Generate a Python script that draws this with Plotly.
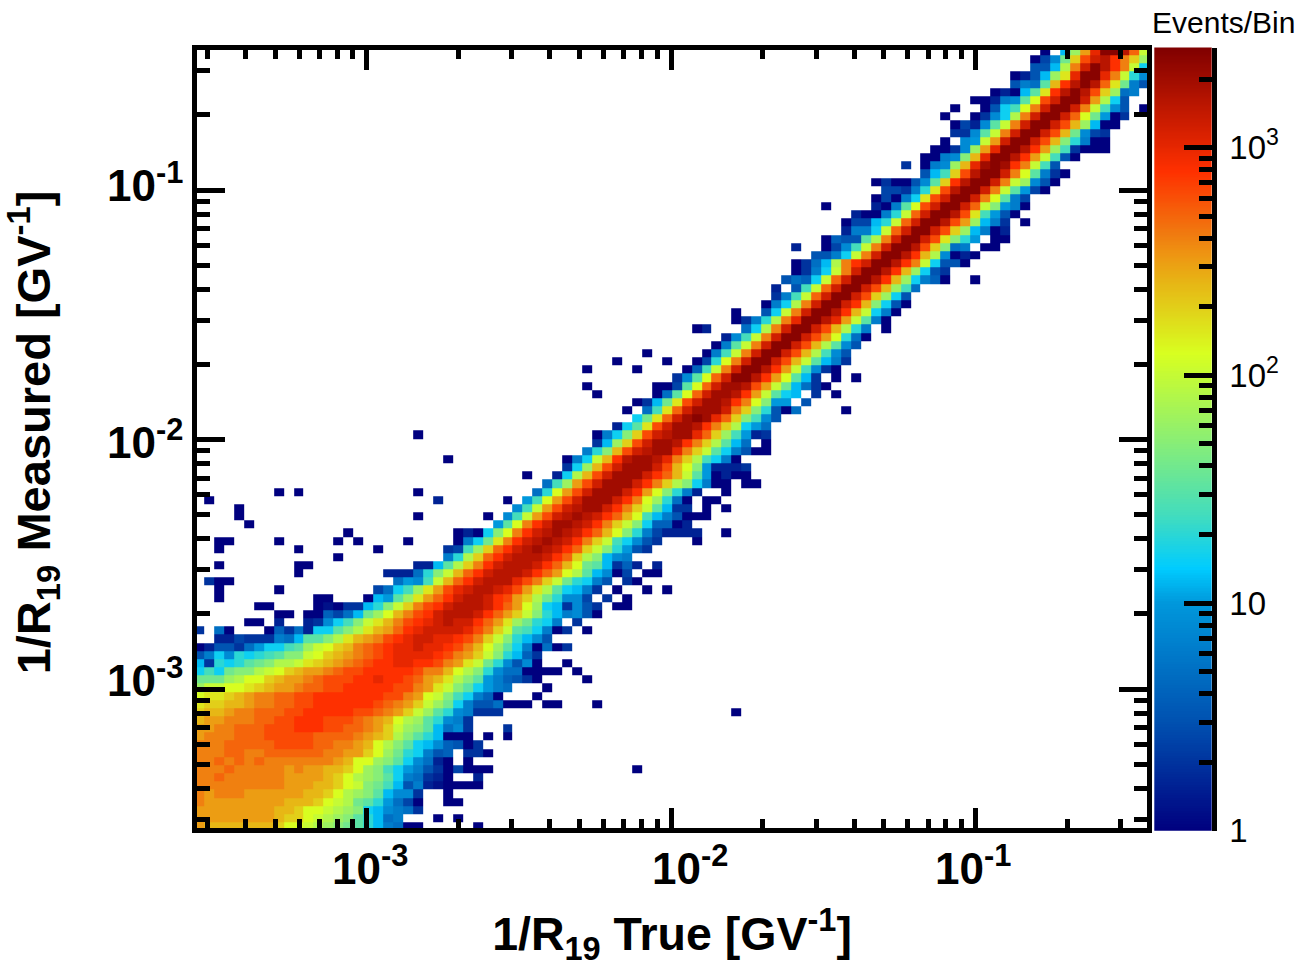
import numpy as np
import plotly.graph_objects as go

W, H = 1314, 967
TICK_DECADES_X = [1e-3, 1e-2, 1e-1]
TICK_LABELS_X = ["10<sup>-3</sup>", "10<sup>-2</sup>", "10<sup>-1</sup>"]
TICK_LABEL_PX_X = [370, 690, 973]
TICK_LABELS_Y = ["10<sup>-3</sup>", "10<sup>-2</sup>", "10<sup>-1</sup>"]
TICK_LABEL_PX_Y = [677, 440, 182]
CBAR_TICKS = [1, 10, 100, 1000]
CBAR_LABELS = ["1", "10", "10<sup>2</sup>", "10<sup>3</sup>"]
NBINS = 96
BIN_LOG_MIN = -3.567
BIN_LOG_STEP = 0.0327
ZMAX_LOG = 3.44

# Cell values: tenths of a decade of events per bin (0 = 1 event, 10 = 10 events, 30 = 1000 events); -1 = empty
ROW_START = [0]*23 + [2, 0] + [11, 11, 12, 17, 18, 20, 19, 22, 25, 25, 26, 26, 30, 31, 32, 33, 34, 35, 36, 37, 37, 39, 40, 40, 42, 44, 45, 44, 46, 46, 48, 49, 50, 51, 52, 53, 55, 54, 57, 57, 58, 58, 59, 60, 60, 62, 63, 63, 65, 65, 66, 68, 68, 69, 68, 73, 73, 73, 74, 77, 76, 76, 78, 79, 78, 80, 82, 82, 84, 84, 85]
ROW_LEVELS = [
 [25,24,24,24,24,24,24,24,23,21,21,20,19,18,17,16,15,13,11,8,7,0,0],
 [25,25,25,25,25,25,25,25,24,23,23,21,20,19,18,17,15,13,11,7,8],
 [25,25,25,25,25,25,25,25,24,24,23,21,21,20,19,18,17,12,11,9,8,7,3],
 [26,25,25,25,25,25,25,25,25,24,24,24,23,21,20,19,16,15,13,10,7,4,0],
 [26,25,26,26,26,25,25,25,25,25,25,24,24,23,21,19,18,17,15,11,9,9,3],
 [26,26,26,26,26,26,26,26,26,25,25,25,24,24,23,21,20,17,16,14,11,5,8,2,1,0,0,0,0],
 [26,26,27,26,26,26,26,26,26,25,25,25,25,24,23,21,19,18,17,15,12,8,7,3,2,0],
 [26,26,26,27,26,26,26,26,26,25,26,25,25,24,24,23,21,18,17,14,12,10,8,5,3,0,4,0,0,0],
 [26,26,27,26,27,26,27,26,26,26,26,26,26,26,25,24,21,21,18,17,15,12,9,7,2,0,-1,0],
 [26,26,26,27,27,26,26,27,27,27,27,27,27,26,26,25,25,23,21,18,16,13,12,8,5,6,-1,3,3,0],
 [26,26,26,27,27,27,27,27,28,28,28,28,27,27,26,26,25,24,21,19,17,15,12,11,9,6,5,0,3],
 [25,26,26,26,27,27,27,28,28,28,28,28,27,27,27,27,26,25,24,23,19,17,15,13,11,0,0,0,-1,0,-1,0],
 [25,25,26,26,27,27,27,28,28,28,29,29,29,28,28,27,27,26,25,23,20,18,17,15,11,7,9,3],
 [24,25,25,26,26,26,27,27,28,28,29,29,29,28,28,28,27,26,25,24,21,19,18,15,13,9,8,3],
 [23,24,24,25,26,26,27,27,27,28,28,29,29,29,29,29,28,28,27,26,25,23,20,18,15,13,9,8,3,3,3],
 [22,23,23,24,24,25,26,26,27,27,28,28,29,29,29,29,29,29,28,27,26,25,23,20,18,16,12,8,5,5,7,0,0,0],
 [21,22,22,23,24,25,26,26,27,27,28,28,29,29,29,29,29,29,29,28,28,26,25,21,20,17,14,12,8,6,0],
 [18,20,20,21,21,22,23,24,25,25,26,27,27,28,28,29,29,29,29,29,28,28,26,25,22,20,17,15,12,10,8,7],
 [16,16,16,18,19,21,21,23,24,25,25,26,27,28,28,28,29,29,30,29,29,28,27,25,24,22,19,17,15,10,8,6,5,3,0],
 [12,14,12,16,17,17,19,20,21,23,24,25,25,26,27,28,28,29,29,29,29,29,28,26,26,24,21,19,17,13,9,7,7,0,0,0,0],
 [11,3,13,12,13,15,16,17,19,19,20,22,23,24,25,26,27,28,29,29,30,30,29,29,28,26,25,22,20,16,13,9,5,9,0],
 [5,8,12,9,13,12,13,14,15,17,17,20,21,23,24,25,26,27,28,29,30,30,30,30,29,28,26,25,23,20,17,13,11,6,3],
 [0,2,5,5,3,7,10,12,12,14,15,18,20,21,23,24,26,27,28,29,30,30,31,30,30,29,28,26,24,21,18,15,12,8,0,7,0,3],
 [2,2,4,3,3,3,8,7,11,15,15,17,19,22,24,25,26,28,29,30,31,31,30,30,29,28,26,23,20,17,13,11,9,5],
 [3,-1,7,0,-1,-1,-1,0,6,3,7,2,12,12,15,17,19,22,24,25,27,29,30,31,31,31,31,30,28,26,23,20,15,14,12,8,0,3,-1,0],
 [2,3,9,12,14,17,20,22,24,26,28,29,30,31,32,31,31,29,27,25,22,18,16,13,12,8,-1,3],
 [0,0,6,4,7,11,16,18,21,24,26,28,29,31,32,32,32,31,29,27,25,23,20,17,13,11,8,9,5,0],
 [0,1,0,3,3,11,13,17,20,23,26,28,29,31,32,32,32,31,29,27,25,21,18,12,11,3,9,5,3,-1,0,0],
 [0,11,10,15,18,22,25,27,29,31,32,32,31,29,28,25,23,19,16,13,9,9,4,-1,3,-1,0],
 [4,7,12,14,18,22,25,28,30,31,32,32,31,30,28,25,22,19,15,12,11,8,3,-1,0,-1,-1,0,-1,0],
 [7,10,9,14,20,24,27,29,31,32,32,32,30,28,26,23,20,16,13,12,8,5,-1,3,0],
 [2,2,2,7,13,17,20,24,27,29,31,32,32,32,31,29,27,25,21,19,15,11,9,0,4,-1,0,0],
 [2,2,11,15,19,23,26,29,31,32,32,32,31,29,27,24,21,16,15,11,3,6,2,-1,2],
 [8,13,19,23,27,29,31,32,32,32,31,29,27,23,19,17,11,9,8],
 [3,4,14,18,23,27,29,31,32,33,32,31,29,27,23,20,17,13,10,5,3],
 [0,8,12,16,22,26,29,31,32,33,32,31,29,26,23,20,14,12,9,5,3],
 [0,2,0,12,17,21,26,29,31,32,33,32,31,29,27,24,21,17,13,8,4,2,2,2,2],
 [10,15,21,26,29,31,33,33,32,31,29,26,23,20,17,12,6,6,0,2],
 [9,14,20,25,28,31,32,33,32,31,29,27,24,21,14,11,8,5,0,0,0],
 [9,14,20,25,28,31,32,33,33,31,29,26,23,20,15,11,3,3,-1,0,-1,0],
 [10,14,21,25,28,31,33,33,33,31,29,26,21,18,13,7,0,-1,0,0],
 [7,13,21,25,28,31,33,33,33,31,29,25,21,17,13,8,2,-1,-1,0],
 [7,14,18,25,28,31,33,33,33,31,29,26,23,19,17,12,8,0,0,-1,0,0],
 [2,12,19,24,28,31,33,33,33,31,29,27,24,20,15,10,0,2,0,0],
 [3,12,18,24,28,31,33,33,33,31,28,24,21,17,10,2,2,2,3],
 [0,8,12,20,24,29,32,33,33,32,30,26,23,19,14,12,8,0],
 [8,13,17,24,28,31,32,33,33,30,26,23,20,15,12,8,5,0,0],
 [3,11,18,23,28,31,33,33,32,29,26,23,19,15,11,7,-1,0],
 [0,8,12,17,23,28,31,32,33,33,30,27,23,18,14,10,2,3],
 [2,12,15,22,28,31,33,33,32,29,26,23,19,12,10,7],
 [12,16,22,27,31,33,34,33,30,27,23,17,14,9,5],
 [7,14,22,27,31,33,33,33,31,26,23,17,13,5,0,7],
 [0,3,11,16,22,28,31,33,33,32,29,26,21,17,10,10,-1,5],
 [0,7,15,21,27,31,33,33,32,29,25,20,15,12,11,-1,3,-1,0],
 [0,0,4,15,21,27,31,33,33,32,28,25,20,16,11,7,3,0],
 [3,9,15,21,27,31,34,34,32,29,25,21,15,11,3,-1,0,-1,0],
 [0,6,14,20,26,31,34,34,32,29,25,20,14,9,3,0],
 [0,4,13,21,26,31,34,34,31,28,24,20,15,11,8,3],
 [0,8,14,20,26,31,34,34,31,28,24,19,14,9,5],
 [0,8,15,20,26,31,34,34,31,28,24,19,15,9,5],
 [2,9,14,20,26,31,34,34,31,28,25,21,13,7,0],
 [7,12,19,26,31,34,34,31,28,24,19,13,8,-1,0],
 [0,3,8,13,19,26,30,34,34,32,30,25,20,15,8,0],
 [5,12,20,26,31,34,34,32,29,24,20,12,8,0],
 [0,8,12,19,26,31,34,34,31,29,24,17,12,5,0],
 [3,8,14,20,27,31,34,34,31,28,23,18,12,5],
 [2,-1,5,14,20,27,31,34,34,31,28,24,18,14,7],
 [5,7,6,12,20,27,31,34,34,32,29,24,18,12,8,6,0],
 [0,3,8,12,20,26,31,34,34,32,29,24,18,12,5,3],
 [0,3,7,11,19,26,29,31,34,34,32,29,26,20,12,5,5,0],
 [5,5,8,12,20,26,31,34,34,32,29,24,19,9,0,2,0],
 [0,4,9,14,20,26,31,34,34,32,28,23,17,7,8,-1,0,0],
 [0,6,5,5,15,19,26,31,34,34,31,28,22,17,13,10,-1,0,0],
 [2,8,8,12,20,27,31,34,34,31,28,23,18,11,8,0,2],
 [0,4,4,11,13,20,27,31,34,34,32,28,25,18,11,8,3],
 [2,0,0,8,13,20,27,31,34,34,32,28,22,14,10,5,0],
 [2,0,8,15,21,28,31,34,34,31,27,20,17,10,8,0],
 [0,4,0,8,12,22,28,31,34,34,31,26,21,15,8,4],
 [4,4,3,8,13,22,28,32,34,34,31,26,20,15,10,4,0],
 [0,3,0,0,5,9,15,23,29,32,34,34,31,26,20,18,9,5,0],
 [5,11,14,23,28,32,34,34,31,26,21,15,8,3,0],
 [0,8,9,18,24,30,33,34,33,29,26,20,14,5],
 [0,0,8,9,17,24,30,34,34,32,29,25,20,14,5,0],
 [0,0,3,9,18,25,30,34,34,32,29,25,18,14,3,0,0,0],
 [9,10,20,25,31,34,34,31,28,24,17,13,8,0,0],
 [3,3,9,15,20,26,31,34,34,31,28,24,16,9,4,3],
 [0,4,2,9,15,20,26,31,34,34,31,28,24,18,11,0,0],
 [0,3,9,12,19,26,31,34,34,31,27,21,16,10,0,3],
 [0,5,12,14,21,26,31,34,34,31,26,20,14,9,5],
 [0,0,2,8,9,15,21,28,31,34,34,31,25,19,12,5],
 [0,2,0,11,15,22,29,32,34,32,28,23,18,7,8],
 [5,8,7,15,24,29,32,34,32,27,22,16,8,5],
 [0,2,5,11,18,22,30,34,34,30,26,20,13,9],
 [5,5,11,19,26,31,34,32,29,26,20,12],
 [0,4,9,16,23,28,31,32,29,26,23,18],
 [0,-1,11,18,25,30,34,34,32,27,20],
]

# Isolated cells away from the band
OUT_COL = [28,24,26,25,26,25,28,44,31,54,35,36,40,34,35,39,38,37,5,6,8,8,9,6,7,2,12,13,2,8,1,2,3,10,2,10,11,14,2,10,18,2,3,8,14,16,21,50,15,53,5,4,22,29,4,1,24,31,8,10,22,33,25,22,43,65,40,39,39,44,42,47,45,50,51,54,78,60,83,63,71,75,75,76,95]
OUT_ROW = [0,1,1,3,3,4,6,7,12,14,15,15,15,16,17,18,19,20,25,25,25,26,26,27,27,28,28,28,29,29,30,30,30,31,32,32,32,33,34,34,34,35,35,35,35,35,35,35,36,36,37,38,38,38,39,40,40,40,41,41,41,43,45,48,51,51,53,54,56,56,57,57,58,61,61,63,67,71,74,76,81,84,87,88,88]
OUT_LEVEL = [0,0,0,0,0,0,2,0,3,0,0,0,0,0,0,0,0,0,0,0,2,0,0,0,0,0,0,0,0,0,3,0,0,0,0,0,0,0,0,0,0,0,0,0,0,0,0,0,0,0,0,0,0,0,0,0,2,0,0,0,0,0,0,0,0,0,0,0,0,0,0,0,0,0,2,0,0,2,0,0,3,0,0,0,0]

COLORSCALE = [[0, "#00007f"], [0.137, "#0050b0"], [0.291, "#0098dc"], [0.335, "#00ccff"], [0.40, "#40dcc0"],
              [0.495, "#88ee77"], [0.609, "#d8ff20"], [0.70, "#e7b515"], [0.735, "#ee9612"], [0.76, "#f07c10"],
              [0.842, "#ff3000"], [0.92, "#c01800"], [1, "#800000"]]

z = np.full((NBINS, NBINS), np.nan)
for r, (s, vals) in enumerate(zip(ROW_START, ROW_LEVELS)):
    for i, v in enumerate(vals):
        if v >= 0 and s + i < NBINS:
            z[r, s + i] = v / 10
for c, r, v in zip(OUT_COL, OUT_ROW, OUT_LEVEL):
    z[r, c] = v / 10

centers = 10 ** (BIN_LOG_MIN + (np.arange(NBINS) + 0.5) * BIN_LOG_STEP)

def minors(lo, hi):
    out = []
    for e in range(lo, hi + 1):
        out += [m * 10.0 ** e for m in range(2, 10)]
    return out

FONT = "Liberation Sans"
fig = go.Figure()
fig.add_trace(go.Heatmap(x=centers, y=centers, z=z, zmin=0, zmax=ZMAX_LOG, colorscale=COLORSCALE,
                         showscale=False, xgap=0, ygap=0, hoverongaps=False))

cb_y = np.logspace(0, ZMAX_LOG, 300)
fig.add_trace(go.Heatmap(x=[0, 1], y=cb_y, z=np.column_stack([np.log10(cb_y)] * 2), zmin=0, zmax=ZMAX_LOG,
                         colorscale=COLORSCALE, showscale=False, xaxis="x2", yaxis="y2"))

px_x = lambda p: p / W
px_y = lambda p: 1 - p / H

common = dict(type="log", showline=True, linecolor="black", linewidth=5, mirror="ticks", ticks="inside",
              tickcolor="black", tickwidth=5, showgrid=False, zeroline=False, automargin=False)
fig.update_layout(
    width=W, height=H, autosize=False, margin=dict(l=0, r=0, t=0, b=0),
    paper_bgcolor="white", plot_bgcolor="white", showlegend=False,
    font=dict(family=FONT, color="black"),
    xaxis=dict(common, domain=[px_x(197), px_x(1147)],
               range=[-3 + (197 - 366.7) / 304.3, -1 + (1147 - 975.4) / 304.3],
               tickvals=TICK_DECADES_X, ticklen=20, showticklabels=False,
               minor=dict(tickvals=minors(-4, -1), ticks="inside", ticklen=9, tickwidth=5, tickcolor="black", showgrid=False),
               title=dict(text="1/R<sub>19</sub> True [GV<sup>-1</sup>]", standoff=95,
                          font=dict(family=FONT, size=46.5, weight="bold"))),
    yaxis=dict(common, domain=[px_y(828), px_y(50)],
               range=[-3 - (828 - 689) / 249.5, -1 + (190 - 50) / 249.5],
               tickvals=TICK_DECADES_X, ticklen=28, showticklabels=False,
               minor=dict(tickvals=minors(-4, -1), ticks="inside", ticklen=13, tickwidth=5, tickcolor="black", showgrid=False),
               title=dict(text="&nbsp;1/R<sub>19</sub> Measured [GV<sup>-1</sup>]", standoff=128,
                          font=dict(family=FONT, size=47, weight="bold"))),
    xaxis2=dict(domain=[px_x(1154.3), px_x(1211.7)], range=[0, 1], anchor="y2", visible=False, fixedrange=True),
    yaxis2=dict(type="log", domain=[px_y(830.7), px_y(47.5)], range=[0, ZMAX_LOG], anchor="x2", side="right",
                showline=True, linecolor="black", linewidth=5, ticks="inside", tickcolor="black", tickwidth=5,
                ticklen=28, tickvals=CBAR_TICKS, ticktext=CBAR_LABELS, showgrid=False, zeroline=False,
                automargin=False, ticklabelstandoff=6, tickfont=dict(family=FONT, size=33),
                minor=dict(tickvals=minors(0, 3), ticks="inside", ticklen=13, tickwidth=5, tickcolor="black", showgrid=False)),
)

annotations = [dict(text="Events/Bin", xref="paper", yref="paper", x=px_x(1150), y=px_y(22), xanchor="left",
                    yanchor="middle", showarrow=False, font=dict(family=FONT, size=30, color="black"))]
for lab, p in zip(TICK_LABELS_X, TICK_LABEL_PX_X):
    annotations.append(dict(text=lab, xref="paper", yref="paper", x=px_x(p), y=px_y(865), xanchor="center",
                            yanchor="middle", showarrow=False, font=dict(family=FONT, size=44, weight="bold", color="black")))
for lab, p in zip(TICK_LABELS_Y, TICK_LABEL_PX_Y):
    annotations.append(dict(text=lab, xref="paper", yref="paper", x=px_x(185), y=px_y(p), xanchor="right",
                            yanchor="middle", showarrow=False, font=dict(family=FONT, size=44, weight="bold", color="black")))
fig.update_layout(annotations=annotations)

fig.write_html("out.html", post_script="document.body.style.margin='0';", config=dict(displayModeBar=False))
